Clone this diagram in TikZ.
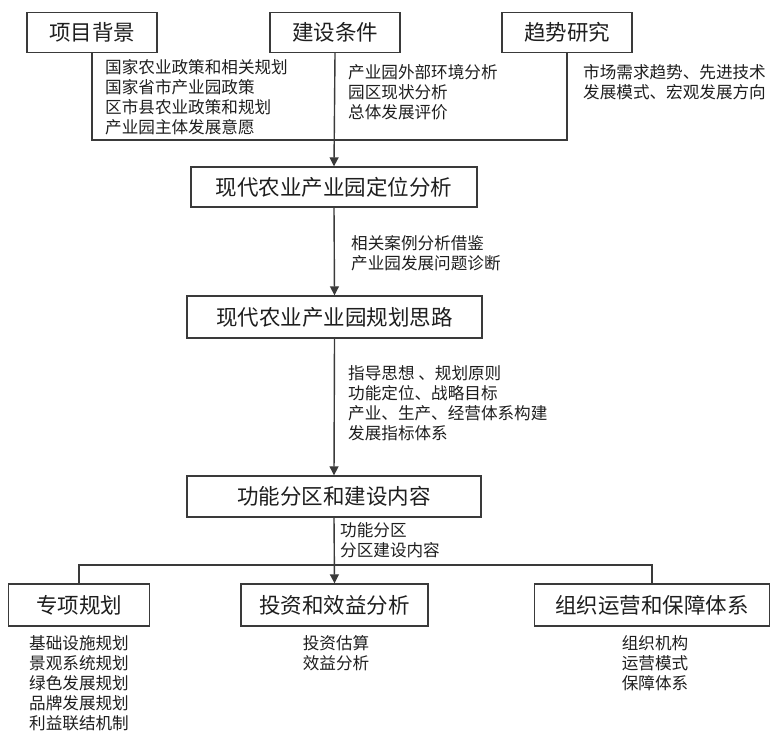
\documentclass[tikz,border=0pt]{standalone}
\usepackage{fontspec}
\setmainfont{Noto Sans CJK SC}
\newfontfamily\cjk{Noto Sans CJK SC}
\usetikzlibrary{arrows.meta}
\definecolor{linec}{HTML}{3A3A3A}
\definecolor{textc}{HTML}{1E1E1E}
\tikzset{
  box/.style={draw=linec, line width=1.4pt, inner sep=0pt, minimum height=40pt,
    font=\cjk\fontsize{21.5}{24}\selectfont, text=textc},
  sub/.style={align=left, inner sep=0pt, anchor=west,
    font=\cjk\fontsize{16.6}{20}\selectfont, text=textc},
  subc/.style={align=center, inner sep=0pt, anchor=north,
    font=\cjk\fontsize{16.6}{20}\selectfont, text=textc},
  conn/.style={draw=linec, line width=1.4pt},
  arr/.style={conn, -{Triangle[length=9pt,width=9pt]}}
}
\begin{document}
\begin{tikzpicture}[x=1pt,y=-1pt]
\useasboundingbox (0,0) rectangle (778,738);
% top row
\node[box, minimum width=130pt] (n1) at (92,32.5) {项目背景};
\node[box, minimum width=130pt] (n2) at (335,32.5) {建设条件};
\node[box, minimum width=130pt] (n3) at (567,32.5) {趋势研究};
\node[sub] (t1) at (105,97) {国家农业政策和相关规划\\国家省市产业园政策\\区市县农业政策和规划\\产业园主体发展意愿};
\node[sub] (t2) at (348,92) {产业园外部环境分析\\园区现状分析\\总体发展评价};
\node[sub] (t3) at (583,82) {市场需求趋势、先进技术\\发展模式、宏观发展方向};
\coordinate (j1) at (335,140);
\draw[conn] (n1.south) |- (j1) -| (n3.south);
% middle column
\node[box, minimum width=286pt] (m1) at (334,187) {现代农业产业园定位分析};
\node[box, minimum width=295pt, minimum height=42pt] (m2) at (334.5,317) {现代农业产业园规划思路};
\node[box, minimum width=294pt, minimum height=41pt] (m3) at (334,496.5) {功能分区和建设内容};
\draw[arr] (n2.south) -- (m1.north);
\draw[arr] (m1.south) -- (m2.north);
\draw[arr] (m2.south) -- (m3.north);
\node[sub] (t4) at (351,253) {相关案例分析借鉴\\产业园发展问题诊断};
\node[sub] (t5) at (348,403) {指导思想 、规划原则\\功能定位、战略目标\\产业、生产、经营体系构建\\发展指标体系};
\node[sub] (t6) at (340,540) {功能分区\\分区建设内容};
% bottom row
\node[box, minimum width=141pt, minimum height=42pt] (b1) at (79,605) {专项规划};
\node[box, minimum width=187pt, minimum height=42pt] (b2) at (334.5,605) {投资和效益分析};
\node[box, minimum width=235pt, minimum height=42pt] (b3) at (652,605) {组织运营和保障体系};
\coordinate (j2) at (334.5,565);
\draw[conn] (b1.north) |- (j2) -| (b3.north);
\draw[arr] (m3.south) -- (b2.north);
\node[subc] (t7) at (79,635) {基础设施规划\\景观系统规划\\绿色发展规划\\品牌发展规划\\利益联结机制};
\node[subc] (t8) at (336,635) {投资估算\\效益分析};
\node[subc] (t9) at (655,635) {组织机构\\运营模式\\保障体系};
\end{tikzpicture}
\end{document}
